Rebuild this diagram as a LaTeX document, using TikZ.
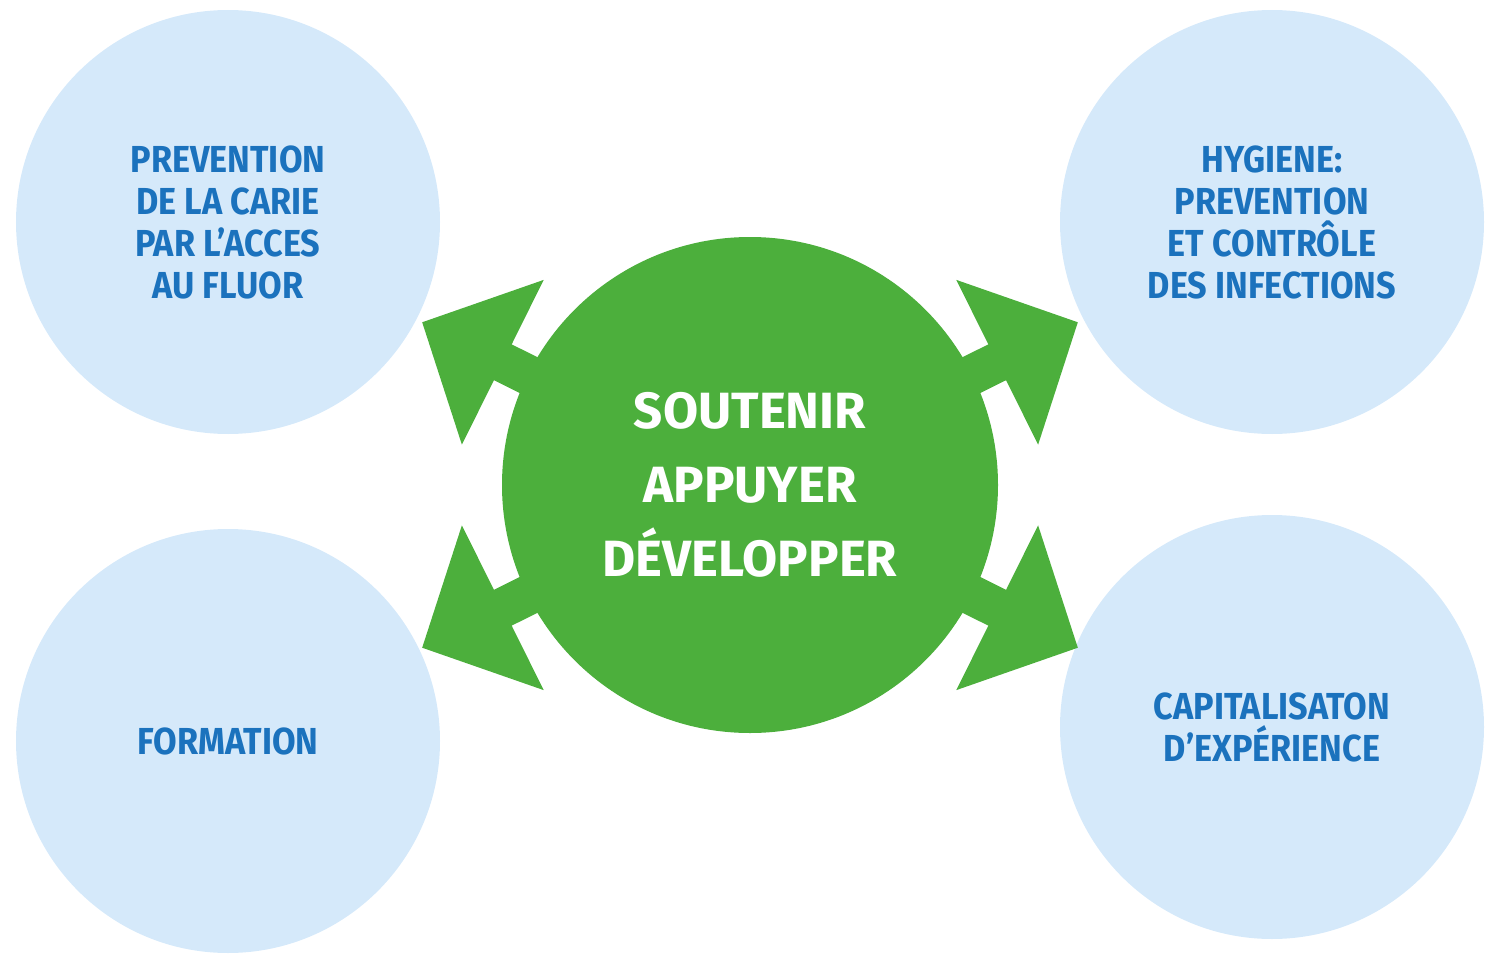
\documentclass[tikz,border=0pt]{standalone}
\usepackage{fontspec}
\setmainfont{Fira Sans}
\newfontfamily\themefont{Fira Sans}[FakeStretch=0.91]
\newfontfamily\hubfont{Fira Sans}
\definecolor{lightblue}{RGB}{213,233,250}
\definecolor{textblue}{RGB}{27,114,189}
\definecolor{hubgreen}{RGB}{76,175,60}

\begin{document}
\begin{tikzpicture}
\tikzset{theme/.style={circle,fill=lightblue,minimum size=4.24cm,inner sep=0pt,
  align=center,text=textblue,font=\themefont\bfseries\fontsize{10.7}{11.95}\selectfont}}
\tikzset{hub/.style={circle,fill=hubgreen,minimum size=4.96cm,inner sep=0pt,
  align=center,text=white,font=\hubfont\bfseries\fontsize{14.5}{21}\selectfont}}
\useasboundingbox (0,0) rectangle (14.86,9.66);
\node [theme] (fluor) at (2.28,7.44) {PREVENTION\\DE LA CARIE\\PAR L’ACCES\\AU FLUOR};
\node [theme] (hygiene) at (12.72,7.44) {HYGIENE:\\PREVENTION\\ET CONTRÔLE\\DES INFECTIONS};
\node [theme] (formation) at (2.28,2.25) {FORMATION};
\node [theme] (capital) at (12.72,2.39) {CAPITALISATON\\D’EXPÉRIENCE};
\node [hub] (hub) at (7.50,4.81) {SOUTENIR\\APPUYER\\DÉVELOPPER};

% arrow heads with their stems
\foreach \a in {26.4,153.6,206.4,333.6} {
  \begin{scope}[shift={(hub.center)},rotate=\a]
    \fill [hubgreen] (2.76,-0.92) -- (3.66,0) -- (2.76,0.92) -- cycle;
    \fill [hubgreen] (2.2,-0.2) rectangle (2.78,0.2);
  \end{scope}
}
\end{tikzpicture}
\end{document}
